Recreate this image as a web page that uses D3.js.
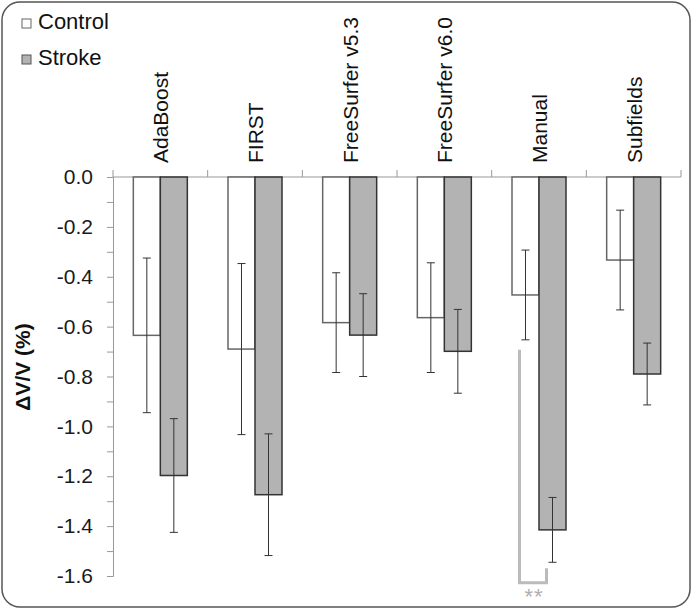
<!DOCTYPE html>
<html>
<head>
<meta charset="utf-8">
<script src="https://cdn.jsdelivr.net/npm/d3@7"></script>
<style>
  body { margin: 0; background: #fff; }
  svg { display: block; font-family: "Liberation Sans", Arial, sans-serif; }
</style>
</head>
<body>
<div id="chart"></div>
<script>
var categories = ['AdaBoost', 'FIRST', 'FreeSurfer v5.3', 'FreeSurfer v6.0', 'Manual', 'Subfields'];
var groups = ['Control', 'Stroke'];
var controlMean = [-0.635, -0.69, -0.584, -0.564, -0.473, -0.333];
var controlErr = [0.31, 0.343, 0.20, 0.22, 0.18, 0.20];
var strokeMean = [-1.197, -1.274, -0.634, -0.699, -1.415, -0.79];
var strokeErr = [0.228, 0.244, 0.166, 0.168, 0.13, 0.124];
var yTicks = [0.0, -0.2, -0.4, -0.6, -0.8, -1.0, -1.2, -1.4, -1.6];
var sigCategory = ['Manual'];
var sigLabel = ['**'];

var width = 693, height = 609;
var margin = { top: 177, right: 12, bottom: 33, left: 113 };

var svg = d3.select('#chart').append('svg')
  .attr('width', width)
  .attr('height', height);

//--- FRAME
svg.append('rect')
  .attr('x', 2).attr('y', 2)
  .attr('width', width - 5).attr('height', height - 4)
  .attr('rx', 18)
  .attr('fill', '#fff')
  .attr('stroke', '#555')
  .attr('stroke-width', 1.5);

//--- SCALES
var x = d3.scaleBand()
  .domain(categories)
  .range([margin.left, width - margin.right])
  .padding(0);

var xInner = d3.scaleBand()
  .domain(groups)
  .range([0, x.bandwidth()])
  .paddingInner(0)
  .paddingOuter(0.753);

var y = d3.scaleLinear()
  .domain([0, -1.6])
  .range([margin.top, height - margin.bottom]);

var colors = { Control: '#ffffff', Stroke: '#b3b3b3' };

var rows = [];
categories.forEach(function(c, i) {
  rows.push({ cat: c, group: 'Control', mean: controlMean[i], err: controlErr[i] });
  rows.push({ cat: c, group: 'Stroke', mean: strokeMean[i], err: strokeErr[i] });
});

//--- Y AXIS
var yAxis = svg.append('g')
  .attr('transform', 'translate(' + margin.left + ',0)')
  .call(d3.axisLeft(y)
    .tickValues(d3.range(0, 17).map(function(d) { return -d / 10; }))
    .tickSize(6)
    .tickPadding(14)
    .tickFormat(function(d) {
      var lab = yTicks.filter(function(t) { return Math.abs(t - d) < 1e-6; });
      return lab.length ? d3.format('.1f')(d).replace('−', '-') : '';
    }));
yAxis.select('.domain').attr('stroke', '#999').attr('stroke-width', 1);
yAxis.selectAll('.tick line').attr('stroke', '#999');
yAxis.selectAll('.tick text')
  .attr('fill', '#1a1a1a')
  .style('font-size', '21px');

//--- CATEGORY AXIS (TOP)
var xAxis = svg.append('g')
  .attr('transform', 'translate(0,' + margin.top + ')')
  .call(d3.axisTop(x).tickSize(0).tickFormat(''));
xAxis.select('.domain').remove();
xAxis.append('line')
  .attr('x1', margin.left).attr('x2', width - margin.right)
  .attr('y1', 0).attr('y2', 0)
  .attr('stroke', '#999');
xAxis.selectAll('.sep')
  .data(categories.concat(['end']))
  .enter().append('line')
  .attr('x1', function(d, i) { return i < categories.length ? x(d) : x.range()[1]; })
  .attr('x2', function(d, i) { return i < categories.length ? x(d) : x.range()[1]; })
  .attr('y1', 0).attr('y2', -7)
  .attr('stroke', '#999');
xAxis.selectAll('.catlabel')
  .data(categories)
  .enter().append('text')
  .attr('transform', function(d) {
    return 'translate(' + (x(d) + x.bandwidth() / 2 + 8) + ',-14) rotate(-90)';
  })
  .attr('text-anchor', 'start')
  .attr('fill', '#111')
  .style('font-size', '21px')
  .text(function(d) { return d; });

//--- BARS
svg.append('g').selectAll('rect')
  .data(rows)
  .enter().append('rect')
  .attr('x', function(d) { return x(d.cat) + xInner(d.group); })
  .attr('y', y(0))
  .attr('width', xInner.bandwidth())
  .attr('height', function(d) { return y(d.mean) - y(0); })
  .attr('fill', function(d) { return colors[d.group]; })
  .attr('stroke', function(d) { return d.group === 'Stroke' ? '#333' : '#666'; })
  .attr('stroke-width', 1.5);

//--- ERROR BARS
var eb = svg.append('g').selectAll('g')
  .data(rows)
  .enter().append('g')
  .attr('stroke', '#333')
  .attr('stroke-width', 1);
function cx(d) { return x(d.cat) + xInner(d.group) + xInner.bandwidth() / 2; }
eb.append('line')
  .attr('x1', cx).attr('x2', cx)
  .attr('y1', function(d) { return y(d.mean + d.err); })
  .attr('y2', function(d) { return y(d.mean - d.err); });
eb.append('line')
  .attr('x1', function(d) { return cx(d) - 4; }).attr('x2', function(d) { return cx(d) + 4; })
  .attr('y1', function(d) { return y(d.mean + d.err); })
  .attr('y2', function(d) { return y(d.mean + d.err); });
eb.append('line')
  .attr('x1', function(d) { return cx(d) - 4; }).attr('x2', function(d) { return cx(d) + 4; })
  .attr('y1', function(d) { return y(d.mean - d.err); })
  .attr('y2', function(d) { return y(d.mean - d.err); });

//--- SIGNIFICANCE BRACKET
sigCategory.forEach(function(c, k) {
  var i = categories.indexOf(c);
  var c0 = { cat: c, group: 'Control' }, c1 = { cat: c, group: 'Stroke' };
  var xl = cx(c0) - 6, xr = cx(c1) - 6;
  var yl = y(controlMean[i] - controlErr[i]) + 10;
  var yr = y(strokeMean[i] - strokeErr[i]) + 6;
  var yb = y(-1.627);
  svg.append('path')
    .attr('d', 'M' + xl + ',' + yl + 'V' + yb + 'H' + xr + 'V' + yr)
    .attr('fill', 'none')
    .attr('stroke', '#bbb')
    .attr('stroke-width', 3);
  svg.append('text')
    .attr('x', (xl + xr) / 2 + 1)
    .attr('y', yb + 21)
    .attr('text-anchor', 'middle')
    .attr('fill', '#b0b0b0')
    .style('font-size', '22px')
    .style('letter-spacing', '1px')
    .text(sigLabel[k]);
});

//--- Y LABEL
svg.append('text')
  .attr('transform', 'translate(30,367) rotate(-90)')
  .attr('text-anchor', 'middle')
  .attr('fill', '#111')
  .style('font-size', '21px')
  .style('font-weight', 'bold')
  .text('ΔV/V (%)');

//--- LEGEND
var legend = svg.append('g').selectAll('g')
  .data(groups)
  .enter().append('g')
  .attr('transform', function(d, i) { return 'translate(22,' + (19 + i * 36) + ')'; });
legend.append('rect')
  .attr('width', 9).attr('height', 9)
  .attr('fill', function(d) { return colors[d]; })
  .attr('stroke', function(d) { return d === 'Stroke' ? '#555' : '#666'; })
  .attr('stroke-width', 1);
legend.append('text')
  .attr('x', 16).attr('y', 10)
  .attr('fill', '#111')
  .style('font-size', '22px')
  .text(function(d) { return d; });
</script>
</body>
</html>
